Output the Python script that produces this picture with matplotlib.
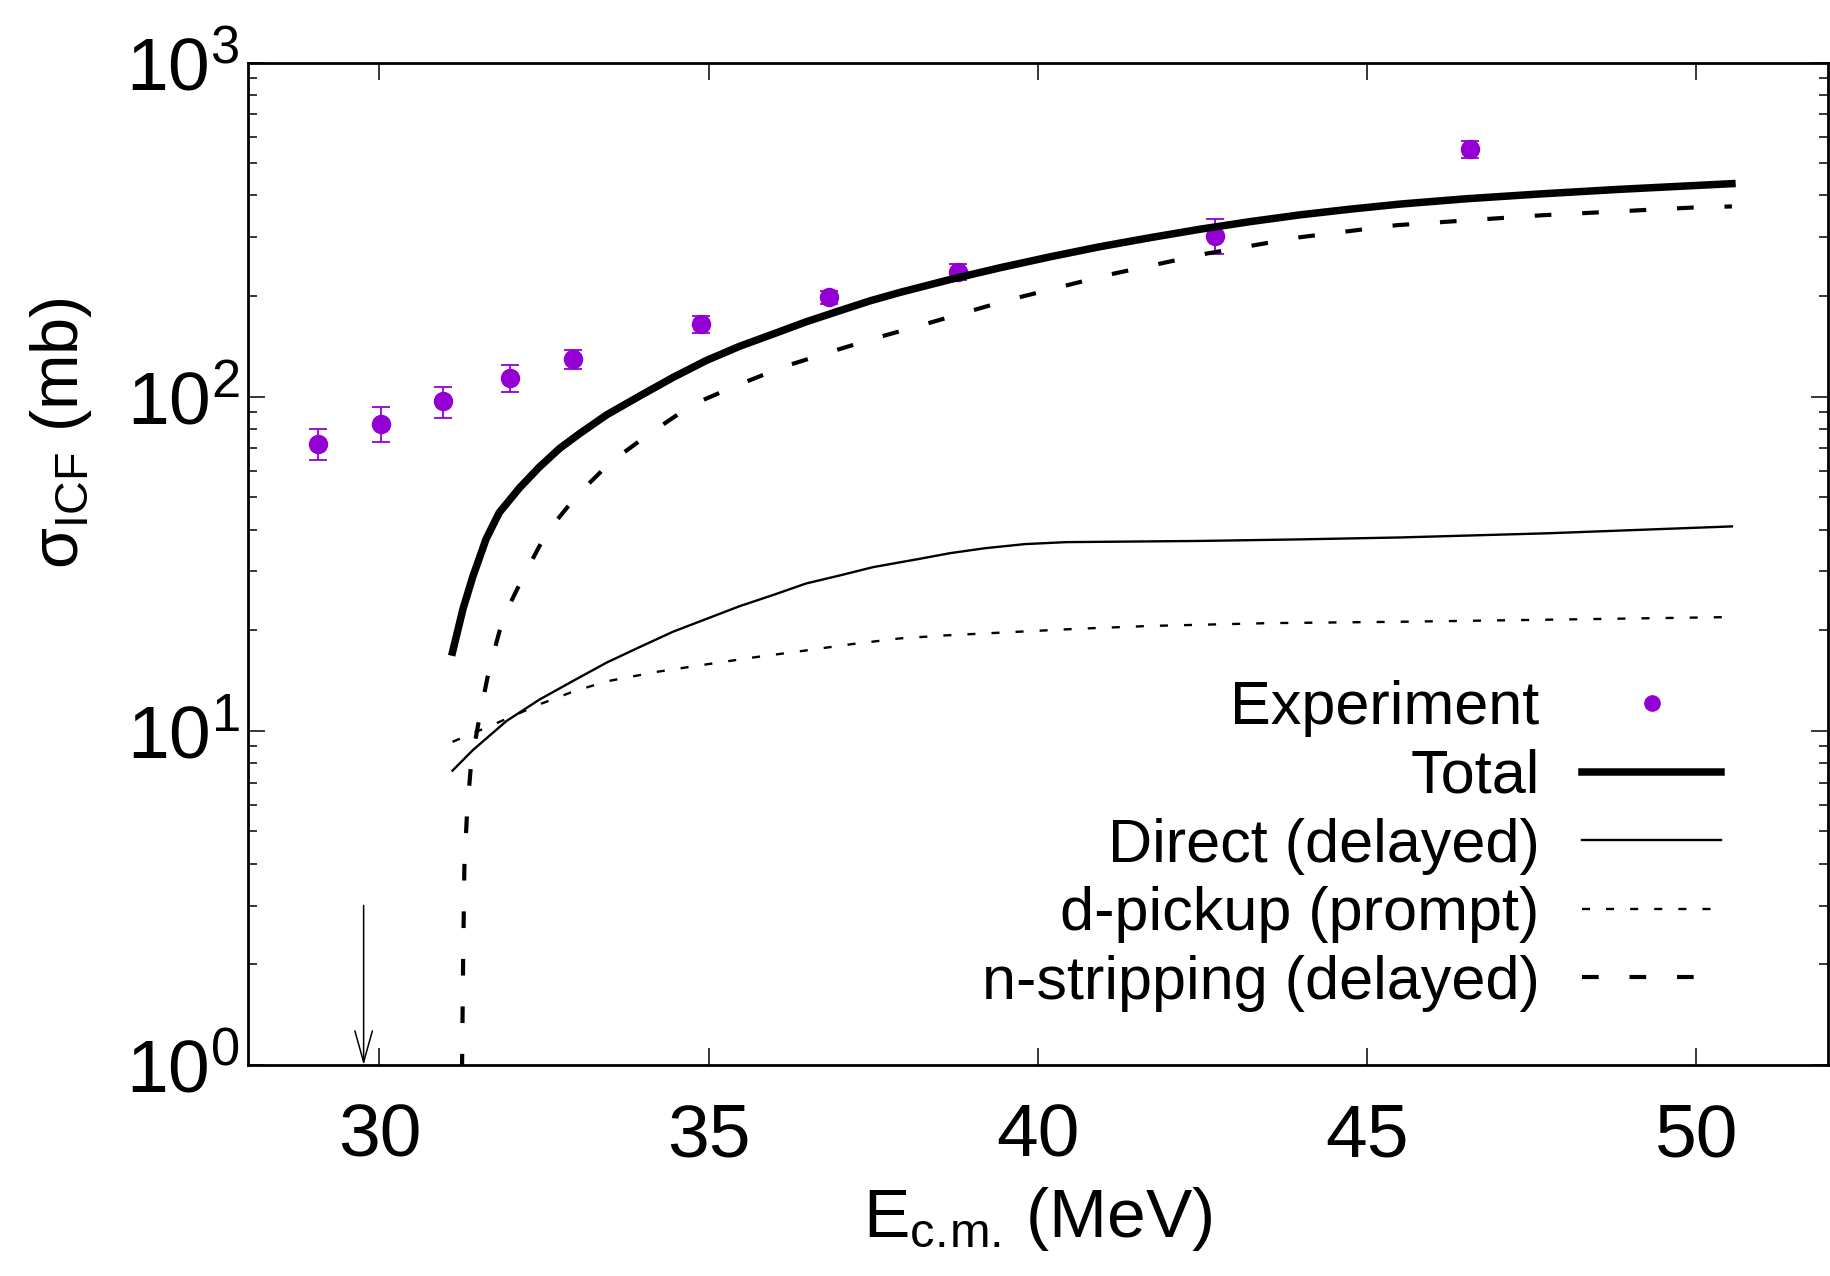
import matplotlib
matplotlib.use("Agg")
import matplotlib.pyplot as plt
from matplotlib.lines import Line2D
from matplotlib.ticker import LogLocator, NullLocator, NullFormatter

plt.rcParams['font.family'] = ['Liberation Sans', 'DejaVu Sans']
plt.rcParams['mathtext.fontset'] = 'custom'
plt.rcParams['mathtext.rm'] = 'Liberation Sans'
plt.rcParams['mathtext.it'] = 'Liberation Sans:italic'
plt.rcParams['mathtext.default'] = 'regular'

# experiment
E_exp = [29.07, 30.03, 30.97, 31.98, 32.94, 34.88, 36.83, 38.79, 42.69, 46.56]
s_exp = [72.4, 83.1, 96.8, 113.7, 129.4, 164.8, 198.3, 236.5, 303.6, 550.5]
err_exp = [7.7, 10.0, 10.4, 10.5, 8.7, 10.0, 9.0, 13.0, 36.0, 31.0]

# total
E_tot = [31.11, 31.27, 31.42, 31.62, 31.82, 32.13, 32.43, 32.74, 33.04, 33.45,
         33.95, 34.46, 34.96, 35.47, 35.98, 36.48, 36.99, 37.45, 37.90, 38.66,
         39.42, 40.18, 40.94, 41.70, 42.46, 43.22, 43.98, 44.74, 45.50, 46.50,
         47.60, 48.80, 50.54]
s_tot = [17.2, 23.2, 29.0, 37.5, 45.0, 53.4, 61.6, 70.1, 77.5, 88.2,
         100.4, 114.2, 128.2, 141.5, 154.0, 167.5, 180.8, 193.5, 205.0, 224.0,
         243.0, 262.0, 281.0, 299.0, 317.0, 334.0, 350.0, 364.0, 377.0, 391.0,
         404.0, 417.0, 434.0]

# direct (delayed)
E_dir = [31.11, 31.42, 31.93, 32.43, 32.94, 33.45, 33.95, 34.46, 34.96, 35.47,
         35.98, 36.48, 37.00, 37.50, 38.20, 38.66, 39.20, 39.80, 40.43, 42.46,
         43.98, 45.50, 47.73, 50.54]
s_dir = [7.6, 8.76, 10.7, 12.4, 14.1, 16.0, 17.8, 19.8, 21.6, 23.6,
         25.5, 27.6, 29.2, 30.9, 32.7, 34.0, 35.2, 36.2, 36.7, 37.0,
         37.4, 37.9, 39.0, 40.9]

# d-pickup (prompt)
E_dp = [31.11, 31.42, 31.93, 32.43, 32.94, 33.45, 34.20, 34.96, 35.70, 36.48,
        37.20, 37.90, 38.60, 39.50, 40.60, 41.71, 43.50, 45.50, 47.70, 50.54]
s_dp = [9.27, 9.83, 10.86, 12.0, 13.1, 14.06, 15.0, 15.8, 16.6, 17.4,
        18.2, 18.9, 19.3, 19.7, 20.2, 20.6, 21.0, 21.2, 21.5, 21.9]

# n-stripping (delayed)
E_ns = [31.24, 31.27, 31.29, 31.33, 31.39, 31.52, 31.67, 31.88, 32.18, 32.53,
        32.99, 33.50, 34.10, 34.76, 35.42, 36.13, 36.84, 37.55, 38.20, 39.57,
        41.09, 42.56, 43.98, 45.45, 47.65, 49.93, 50.54]
s_ns = [0.5, 1.97, 3.92, 5.66, 7.9, 11.0, 15.4, 21.8, 28.8, 38.9,
        50.4, 63.4, 77.5, 94.8, 107.9, 122.7, 136.0, 150.0, 163.0, 195.0,
        232.0, 268.0, 300.0, 326.0, 349.0, 368.0, 371.0]

# threshold arrow
E_arrow = 29.76
arrow_from, arrow_to = 3.0, 1.0

purple = '#9400D3'

fig = plt.figure(figsize=(18.31, 12.76), dpi=100)
ax = fig.add_axes([0.1353, 0.1654, 0.8631, 0.7856])

ax.errorbar(E_exp, s_exp, yerr=err_exp, fmt='o', color=purple, ms=13,
            capsize=6.5, elinewidth=1.3, capthick=1.3, zorder=2)
ax.plot(E_tot, s_tot, '-', color='black', lw=5.4, zorder=3)
ax.plot(E_dir, s_dir, '-', color='black', lw=1.7, zorder=3)
ax.plot(E_dp, s_dp, color='black', lw=1.7, dashes=(3.4, 6.8), zorder=3)
ax.plot(E_ns, s_ns, color='black', lw=3.0, dashes=(4.0, 7.4), zorder=3)

ax.annotate('', xy=(E_arrow, arrow_to), xytext=(E_arrow, arrow_from),
            arrowprops=dict(arrowstyle='->,head_length=1.5,head_width=0.42',
                            lw=1.1, color='black', shrinkA=0, shrinkB=0,
                            mutation_scale=15))

ax.set_yscale('log')
ax.set_xlim(28, 52)
ax.set_ylim(1, 1000)
ax.set_xticks([30, 35, 40, 45, 50])
ax.xaxis.set_minor_locator(NullLocator())
ax.yaxis.set_major_locator(LogLocator(base=10, numticks=10))
ax.yaxis.set_minor_locator(LogLocator(base=10, subs=range(2, 10), numticks=10))
ax.yaxis.set_minor_formatter(NullFormatter())

ax.tick_params(which='both', direction='in', top=True, right=True, width=1.1)
ax.tick_params(which='major', length=12.5, labelsize=54)
ax.tick_params(which='minor', length=6.5)
ax.tick_params(axis='x', pad=27)
ax.tick_params(axis='y', pad=6)
for sp in ax.spines.values():
    sp.set_linewidth(2.0)

ax.set_xlabel(r'E$_{\mathregular{c.\!m.\!}}$ (MeV)', fontsize=50, labelpad=10)
ax.set_ylabel('σ$_{ICF}$ (mb)', fontsize=48)
ax.yaxis.label.set_va('center')
ax.yaxis.set_label_coords(-0.118, 0.63)

handles = [
    Line2D([], [], marker='o', ls='none', color=purple, ms=11),
    Line2D([], [], color='black', lw=5.4),
    Line2D([], [], color='black', lw=1.7),
    Line2D([], [], color='black', lw=1.7, dashes=(3.4, 6.8)),
    Line2D([], [], color='black', lw=3.0, dashes=(4.0, 7.4)),
]
labels = ['Experiment', 'Total', 'Direct (delayed)', 'd-pickup (prompt)',
          'n-stripping (delayed)']
ax.legend(handles, labels, loc='lower right', bbox_to_anchor=(0.932, 0.053),
          frameon=False, markerfirst=False, fontsize=44, handlelength=2.26,
          handletextpad=0.7, labelspacing=0.19, borderpad=0, borderaxespad=0)

fig.savefig('out.png', dpi=100)
